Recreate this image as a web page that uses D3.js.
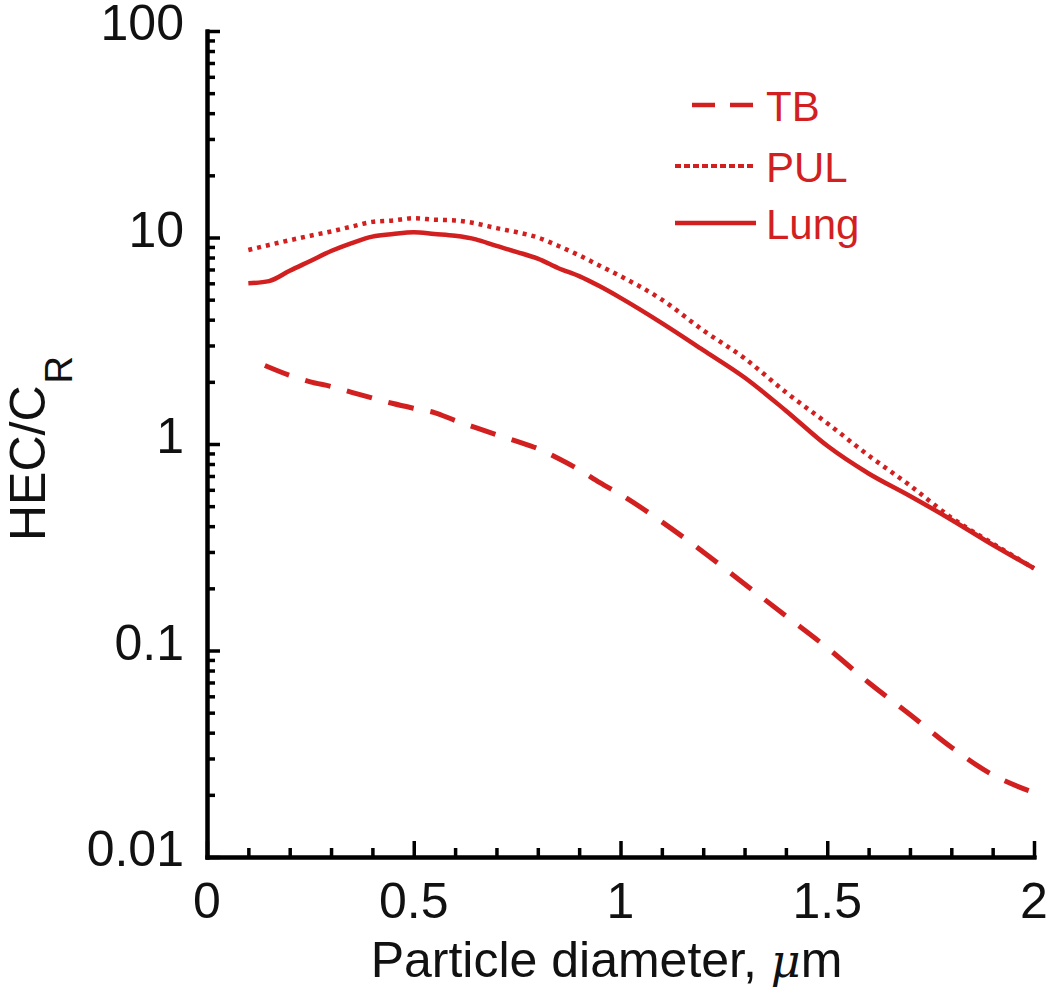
<!DOCTYPE html>
<html lang="en">
<head>
  <meta charset="UTF-8">
  <title>HEC/CR vs particle diameter</title>
  <script src="https://d3js.org/d3.v7.min.js"></script>
  <style>
    body { margin: 0; background: #fff; }
    text { font-family: "Liberation Sans", Arial, sans-serif; }
  </style>
</head>
<body>
  <script>
    var width = 1050;
    var height = 1006;

    // diameter (um) and HEC/CR values
    var lungX = [0.1, 0.15, 0.2, 0.25, 0.3, 0.35, 0.4, 0.45, 0.5, 0.55, 0.6, 0.65, 0.7, 0.75, 0.8, 0.85, 0.9, 0.95, 1.0, 1.1, 1.2, 1.3, 1.4, 1.5, 1.6, 1.7, 1.8, 1.9, 2.0];
    var lungY = [6.0, 6.15, 6.9, 7.7, 8.6, 9.4, 10.1, 10.4, 10.6, 10.4, 10.2, 9.8, 9.1, 8.5, 7.9, 7.1, 6.5, 5.8, 5.1, 3.85, 2.85, 2.1, 1.45, 0.98, 0.72, 0.56, 0.43, 0.325, 0.25];

    var pulX = [0.1, 0.15, 0.2, 0.25, 0.3, 0.35, 0.4, 0.45, 0.5, 0.55, 0.6, 0.65, 0.7, 0.75, 0.8, 0.85, 0.9, 0.95, 1.0, 1.1, 1.2, 1.3, 1.4, 1.5, 1.6, 1.7, 1.8, 1.9, 2.0];
    var pulY = [8.7, 9.2, 9.7, 10.2, 10.7, 11.3, 11.9, 12.1, 12.4, 12.2, 12.1, 11.7, 11.1, 10.6, 10.0, 9.1, 8.2, 7.3, 6.5, 5.0, 3.55, 2.6, 1.78, 1.26, 0.88, 0.63, 0.44, 0.33, 0.25];

    var tbX = [0.14, 0.2, 0.25, 0.3, 0.35, 0.4, 0.45, 0.5, 0.55, 0.6, 0.65, 0.7, 0.75, 0.8, 0.85, 0.9, 0.95, 1.0, 1.1, 1.2, 1.3, 1.4, 1.5, 1.6, 1.7, 1.8, 1.9, 2.0];
    var tbY = [2.4, 2.15, 2.0, 1.9, 1.78, 1.67, 1.57, 1.49, 1.42, 1.3, 1.2, 1.11, 1.03, 0.95, 0.85, 0.75, 0.65, 0.57, 0.42, 0.3, 0.21, 0.147, 0.103, 0.07, 0.049, 0.034, 0.025, 0.0205];

    var xTicks = [0, 0.5, 1, 1.5, 2];
    var xTickLabels = ['0', '0.5', '1', '1.5', '2'];
    var yTicks = [0.01, 0.1, 1, 10, 100];
    var yTickLabels = ['0.01', '0.1', '1', '10', '100'];

    var seriesNames = ['TB', 'PUL', 'Lung'];

    var red = '#d21f1f';
    var plot = { left: 207, right: 1034, top: 31, bottom: 857 };

    var svg = d3.select('body')
      .append('svg')
      .attr('width', width)
      .attr('height', height);

    var xScale = d3.scaleLinear()
      .domain([0, 2])
      .range([plot.left, plot.right]);
    var yScale = d3.scaleLog()
      .domain([0.01, 100])
      .range([plot.bottom, plot.top]);

    // minor ticks
    var xMinor = d3.range(0, 21).map(function (i) { return i / 10; })
      .filter(function (d) { return Math.round(d * 10) % 5 !== 0; });
    var yMinor = [];
    yTicks.slice(0, -1).forEach(function (dec) {
      for (var k = 2; k <= 9; k++) yMinor.push(dec * k);
    });

    // each tick set in its own group so the joins don't clash
    svg.append('g')
      .attr('transform', 'translate(0,' + plot.bottom + ')')
      .call(d3.axisBottom(xScale).tickValues(xMinor).tickSize(-9).tickSizeOuter(0).tickFormat(''));
    svg.append('g')
      .attr('transform', 'translate(0,' + plot.bottom + ')')
      .call(d3.axisBottom(xScale).tickValues(xTicks).tickSize(-16).tickSizeOuter(0).tickFormat(''));
    svg.append('g')
      .attr('transform', 'translate(' + plot.left + ',0)')
      .call(d3.axisLeft(yScale).tickValues(yMinor).tickSize(-8).tickSizeOuter(0).tickFormat(''));
    svg.append('g')
      .attr('transform', 'translate(' + plot.left + ',0)')
      .call(d3.axisLeft(yScale).tickValues(yTicks).tickSize(-13).tickSizeOuter(0).tickFormat(''));

    svg.selectAll('.domain').attr('stroke', '#000').attr('stroke-width', 4).attr('stroke-linecap', 'square');
    svg.selectAll('.tick line').attr('stroke', '#000').attr('stroke-width', 3.5);

    // tick labels
    svg.selectAll('.xlab')
      .data(xTicks)
      .enter()
      .append('text')
      .attr('x', function (d) { return xScale(d); })
      .attr('y', 918)
      .attr('text-anchor', 'middle')
      .attr('font-size', '50px')
      .attr('fill', '#111')
      .text(function (d, i) { return xTickLabels[i]; });

    svg.selectAll('.ylab')
      .data(yTicks)
      .enter()
      .append('text')
      .attr('x', 184)
      .attr('y', function (d) { return yScale(d) + 9; })
      .attr('text-anchor', 'end')
      .attr('font-size', '50px')
      .attr('fill', '#111')
      .text(function (d, i) { return yTickLabels[i]; });

    // axis titles
    svg.append('text')
      .attr('x', (365 + 848) / 2)
      .attr('y', 977)
      .attr('text-anchor', 'middle')
      .attr('font-size', '50px')
      .attr('fill', '#111')
      .html('Particle diameter, <tspan font-family="DejaVu Serif" font-style="italic" font-size="46px">μ</tspan>m');

    var ytitle = svg.append('text')
      .attr('transform', 'translate(45,541) rotate(-90)')
      .attr('font-size', '50px')
      .attr('fill', '#111');
    ytitle.append('tspan').text('HEC/C');
    ytitle.append('tspan').attr('font-size', '38px').attr('dy', 27).attr('dx', 2).text('R');

    // curves
    var line = d3.line()
      .x(function (d) { return xScale(d[0]); })
      .y(function (d) { return yScale(d[1]); })
      .curve(d3.curveMonotoneX);

    var series = [
      { name: seriesNames[0], pts: d3.zip(tbX, tbY), dash: '26,17', w: 5 },
      { name: seriesNames[1], pts: d3.zip(pulX, pulY), dash: '4,5', w: 4.5 },
      { name: seriesNames[2], pts: d3.zip(lungX, lungY), dash: null, w: 4.5 }
    ];

    svg.selectAll('.curve')
      .data(series)
      .enter()
      .append('path')
      .attr('class', 'curve')
      .attr('fill', 'none')
      .attr('stroke', red)
      .attr('stroke-width', function (d) { return d.w; })
      .attr('stroke-dasharray', function (d) { return d.dash; })
      .attr('d', function (d) { return line(d.pts); });

    // legend
    var legendRows = [
      { y: 105, x1: 692, dash: '23,15', w: 4.5 },
      { y: 166, x1: 675, dash: '6,3', w: 4 },
      { y: 223, x1: 675, dash: null, w: 4.5 }
    ];
    var legend = svg.append('g');
    legend.selectAll('line')
      .data(legendRows)
      .enter()
      .append('line')
      .attr('x1', function (d) { return d.x1; })
      .attr('x2', 756)
      .attr('y1', function (d) { return d.y; })
      .attr('y2', function (d) { return d.y; })
      .attr('stroke', red)
      .attr('stroke-width', function (d) { return d.w; })
      .attr('stroke-dasharray', function (d) { return d.dash; });
    legend.selectAll('text')
      .data(legendRows)
      .enter()
      .append('text')
      .attr('x', 766)
      .attr('y', function (d) { return d.y + 16; })
      .attr('font-size', '42px')
      .attr('fill', red)
      .text(function (d, i) { return seriesNames[i]; });
  </script>
</body>
</html>
